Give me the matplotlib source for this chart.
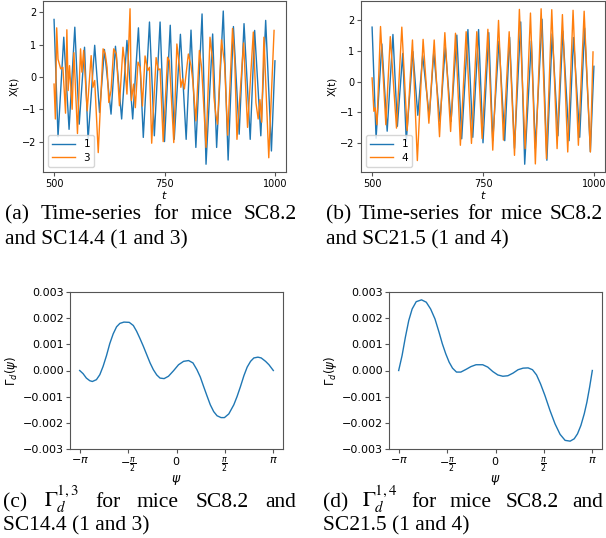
import matplotlib
matplotlib.use("Agg")
import matplotlib.pyplot as plt
import numpy as np

W, H = 606, 538

# mouse SC8.2 (series 1), peaks and troughs
t_1 = [500, 509, 522, 534, 547, 557, 569, 577, 592, 603, 614, 629, 639, 653, 665, 678,
       691, 702, 716, 727, 740, 750, 763, 772, 786, 799, 810, 821, 835, 844, 859, 868,
       883, 894, 906, 919, 930, 944, 954, 968, 979, 992, 1000]
x_1 = [1.78, -1.85, 1.23, -1.62, 1.54, -1.46, 0.92, -1.95, 0.98, -1.10, 0.85, -1.15, 0.95, -1.30, 1.13, -1.30,
       1.52, -1.87, 1.70, -1.82, 1.70, -2.00, 1.60, -1.93, 1.32, -1.93, 1.45, -2.18, 1.95, -2.70, 1.33, -2.18,
       2.04, -2.57, 1.56, -1.77, 1.65, -1.93, 1.44, -1.82, 1.75, -2.29, 0.50]

# mouse SC14.4 (series 3)
t_3 = [500, 503, 506, 509, 515, 520, 526, 529, 532, 535, 541, 545, 553, 560, 563, 567,
       575, 584, 588, 592, 600, 611, 616, 620, 624, 629, 635, 641, 648, 656, 659, 665,
       672, 675, 680, 684, 690, 695, 700, 706, 712, 716, 721, 731, 736, 740, 747, 757,
       761, 771, 778, 784, 787, 791, 795, 804, 810, 814, 821, 829, 834, 844, 853, 859,
       862, 866, 870, 879, 886, 893, 904, 909, 914, 929, 938, 951, 957, 962, 966, 970,
       975, 986, 998]
x_3 = [-0.22, -1.30, 1.52, 0.55, 0.25, 0.30, -1.12, 1.46, -0.42, 0.35, -1.00, 0.75, -1.75, 0.87, 0.15, 0.82,
       -1.05, 0.66, -0.32, -0.11, -2.34, 0.87, 0.71, 0.30, -0.79, -0.42, 0.87, 0.71, -0.89, 0.92, 0.56, -0.53,
       2.11, -0.73, -0.22, -0.95, 0.46, 0.30, -0.90, 0.65, 0.20, 0.30, -2.05, 0.60, 0.22, 0.25, -2.00, 0.61,
       0.50, -2.03, 1.02, 0.30, -0.32, -0.06, -0.37, 0.71, 0.35, -0.11, -1.36, 0.82, 0.30, -2.18, 1.23, 0.50,
       -0.63, -1.15, -1.46, 1.15, 0.40, -1.80, 1.50, 0.50, -1.93, 1.05, -1.56, 1.39, -0.80, -1.30, -0.70, -1.40,
       1.23, -2.50, 1.44]

# mouse SC21.5 (series 4)
t_4 = [500, 504, 507, 511, 519, 531, 541, 555, 567, 579, 591, 602, 615, 628, 640, 652,
       664, 677, 688, 699, 712, 724, 736, 748, 761, 772, 785, 796, 809, 821, 832, 845,
       857, 868, 881, 893, 905, 917, 929, 941, 953, 965, 978, 992, 998]
x_4 = [0.12, -0.97, -0.86, -1.41, 1.80, -1.41, 1.47, -1.52, 1.78, -1.60, 1.36, -2.58, 1.38, -1.36, 1.36, -1.80,
       1.60, -1.63, 1.58, -2.08, 1.63, -2.02, 1.63, -1.86, 1.71, -2.24, 2.00, -1.91, 1.63, -2.41, 2.36, -2.19,
       2.24, -2.69, 2.38, -2.52, 2.35, -2.19, 2.19, -2.30, 2.33, -2.08, 2.30, -2.30, 0.97]

# Gamma_d^{1,3}: psi in units of pi, value in units of 1e-3
psi_c = [-1.000, -0.965, -0.931, -0.896, -0.869, -0.827, -0.792, -0.758, -0.723, -0.689, -0.654, -0.619,
         -0.585, -0.543, -0.488, -0.446, -0.412, -0.377, -0.343, -0.308, -0.273, -0.239, -0.204, -0.170,
         -0.128, -0.083, -0.031, 0.021, 0.073, 0.125, 0.170, 0.211, 0.246, 0.280, 0.315, 0.349, 0.384,
         0.419, 0.460, 0.495, 0.540, 0.592, 0.626, 0.661, 0.696, 0.730, 0.765, 0.799, 0.841, 0.875,
         0.920, 0.955, 1.000]
gam_c = [0.00, -0.12, -0.29, -0.39, -0.42, -0.35, -0.16, 0.16, 0.57, 1.03, 1.40, 1.67,
         1.80, 1.85, 1.84, 1.72, 1.50, 1.22, 0.93, 0.61, 0.29, 0.03, -0.17, -0.29,
         -0.31, -0.22, -0.01, 0.22, 0.35, 0.38, 0.29, 0.03, -0.25, -0.61, -0.97, -1.31, -1.57,
         -1.73, -1.80, -1.80, -1.66, -1.31, -0.99, -0.61, -0.20, 0.13, 0.35, 0.48, 0.51, 0.48,
         0.35, 0.22, 0.00]

# Gamma_d^{1,4}
psi_d = [-1.000, -0.965, -0.931, -0.896, -0.861, -0.819, -0.764, -0.715, -0.670, -0.625, -0.583, -0.549,
         -0.514, -0.479, -0.444, -0.403, -0.358, -0.306, -0.253, -0.201, -0.132, -0.080, -0.028, 0.024,
         0.076, 0.128, 0.181, 0.233, 0.285, 0.337, 0.382, 0.424, 0.465, 0.510, 0.563, 0.615, 0.667,
         0.719, 0.771, 0.813, 0.847, 0.882, 0.917, 0.944, 0.972, 1.000]
gam_d = [0.00, 0.57, 1.27, 1.91, 2.35, 2.63, 2.70, 2.61, 2.35, 1.97, 1.46, 1.02,
         0.64, 0.32, 0.09, -0.06, -0.06, 0.04, 0.15, 0.22, 0.22, 0.13, -0.04, -0.17,
         -0.22, -0.20, -0.10, 0.03, 0.09, 0.10, 0.03, -0.17, -0.51, -0.95, -1.53, -2.04, -2.44,
         -2.67, -2.70, -2.61, -2.42, -2.10, -1.65, -1.21, -0.64, 0.00]

psi_ticks = [-np.pi, -np.pi / 2, 0, np.pi / 2, np.pi]
psi_labels = [r"$-\pi$", r"$-\frac{\pi}{2}$", r"$0$", r"$\frac{\pi}{2}$", r"$\pi$"]
gam_ticks = [-0.003, -0.002, -0.001, 0.0, 0.001, 0.002, 0.003]


def box(l, t, r, b):
    return [l / W, 1 - b / H, (r - l) / W, (b - t) / H]


def style(ax, size, pad=2):
    for s in ax.spines.values():
        s.set_color("#555555")
        s.set_linewidth(0.8)
    ax.tick_params(labelsize=size, color="#555555", length=3, width=0.8, pad=pad)


fig = plt.figure(figsize=(W / 100, H / 100), dpi=100)

# top row: time series
for rect, tb, xb, lab in [((43, 1, 286, 172), t_3, x_3, "3"),
                          ((361, 1, 605, 172), t_4, x_4, "4")]:
    ax = fig.add_axes(box(*rect))
    ax.plot(t_1, x_1, color="C0", lw=1.0, label="1")
    ax.plot(tb, xb, color="C1", lw=1.0, label=lab)
    ax.set_xticks([500, 750, 1000])
    ax.set_yticks([-2, -1, 0, 1, 2])
    style(ax, 7)
    ax.set_xlabel("$t$", fontsize=8, labelpad=0)
    ax.set_ylabel("X(t)", fontsize=7.5, labelpad=2)
    ax.legend(loc="lower left", fontsize=7.5, handlelength=2.2, borderpad=0.4,
              labelspacing=0.3, borderaxespad=0.5)

# bottom row: interaction functions
for rect, ps, gm in [((70, 292, 283, 449), psi_c, gam_c),
                     ((389, 292, 602, 449), psi_d, gam_d)]:
    ax = fig.add_axes(box(*rect))
    ax.plot(np.array(ps) * np.pi, np.array(gm) * 1e-3, color="C0", lw=1.0)
    ax.set_ylim(-0.003, 0.003)
    ax.set_yticks(gam_ticks)
    ax.set_yticklabels([f"{v:.3f}".replace("-", "\u2212") for v in gam_ticks])
    ax.set_xticks(psi_ticks)
    ax.set_xticklabels(psi_labels)
    style(ax, 8, pad=1.5)
    ax.set_xlabel(r"$\psi$", fontsize=9, labelpad=-1)
    ax.set_ylabel(r"$\Gamma_d(\psi)$", fontsize=8.5, labelpad=2)

# captions
cap = dict(family="Liberation Serif", fontsize=15.5, va="baseline", math_fontfamily="stix")
renderer = fig.canvas.get_renderer()


def justified(parts, x0, x1, y):
    # first line of a justified LaTeX caption: spread the words from x0 to x1
    texts = [fig.text(0, 1 - y / H, s, **cap) for s in parts]
    widths = [t.get_window_extent(renderer).width for t in texts]
    gap = (x1 - x0 - sum(widths)) / (len(parts) - 1)
    x = x0
    for t, w in zip(texts, widths):
        t.set_x(x / W)
        x += w + gap


def line(s, x0, y):
    fig.text(x0 / W, 1 - y / H, s, **cap)


justified(["(a)", "Time-series", "for", "mice", "SC8.2"], 5, 297, 219)
line("and SC14.4 (1 and 3)", 5, 244)
justified(["(b)", "Time-series", "for", "mice", "SC8.2"], 326, 603, 219)
line("and SC21.5 (1 and 4)", 326, 244)
justified(["(c)", r"$\Gamma_d^{1,3}$", "for", "mice", "SC8.2", "and"], 3, 296, 507)
line("SC14.4 (1 and 3)", 3, 530)
justified(["(d)", r"$\Gamma_d^{1,4}$", "for", "mice", "SC8.2", "and"], 323, 603, 507)
line("SC21.5 (1 and 4)", 323, 530)

fig.savefig("out.png", dpi=100)
